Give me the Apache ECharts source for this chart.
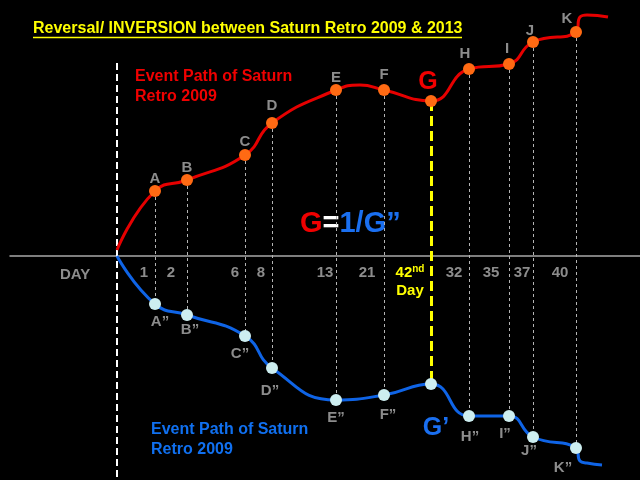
<!DOCTYPE html>
<html>
<head>
<meta charset="utf-8">
<script src="https://cdn.jsdelivr.net/npm/echarts@6/dist/echarts.min.js"></script>
<style>
html, body {margin: 0; padding: 0; background: #000;}
#main {width: 640px; height: 480px;}
</style>
</head>
<body>
<div id="main"></div>
<script>
// event points, x = position along the day axis (0 = start line)
const pointNames = ['A', 'B', 'C', 'D', 'E', 'F', 'G', 'H', 'I', 'J', 'K'];
const pointX = [38, 70, 128, 155, 219, 267, 314, 352, 392, 416, 459];
const redValues = [65, 76, 101, 133, 166, 166, 155, 187, 192, 214, 224];
const blueValues = [-48, -59, -80, -112, -144, -139, -128, -160, -160, -181, -192];
// unmarked points of each path (start, bends, tail)
const redPlain = [[0, 6], [243, 171], [463, 239], [470, 241], [491, 239]];
const bluePlain = [[0, 0], [463, -205], [470, -207], [485, -209]];
// day tick labels
const dayTickX = [27, 54, 118, 144, 208, 250, 293, 337, 374, 405, 443];
const dayTicks = ['1', '2', '6', '8', '13', '21', '42nd', '32', '35', '37', '40'];
const startLine = [193, -224];

// label nudges (style only)
const redOffsets = {A: [0, 4], B: [0, 4], C: [0, 3], D: [0, -1], E: [0, 4], F: [0, 1],
    G: [-3, 3], H: [-4, 1], I: [-2, 1], J: [-3, 5], K: [-9, 3]};
const blueOffsets = {A: [5, 0], B: [3, -3], C: [-5, 0], D: [-2, 5], E: [0, 0], F: [4, 2],
    G: [5, 22], H: [1, 3], I: [-4, 0], J: [-4, -4], K: [-13, 2]};

const grey = '#8c8c8c';
const font = 'Liberation Sans, Arial, sans-serif';

function pathData(values, plain, side) {
    const offsets = side === 'top' ? redOffsets : blueOffsets;
    const data = plain.map(function (p) {
        return {value: p, symbol: 'none', label: {show: false}};
    });
    values.forEach(function (v, i) {
        const n = pointNames[i];
        const item = {
            value: [pointX[i], v],
            name: side === 'top' ? n : (n === 'G' ? 'G\u2019' : n + '\u201D'),
            label: {offset: offsets[n]}
        };
        if (n === 'G') {
            item.label.fontSize = 25;
            item.label.color = side === 'top' ? '#f00000' : '#1a6ff0';
        }
        data.push(item);
    });
    data.sort(function (a, b) { return a.value[0] - b.value[0]; });
    return data;
}

const linkLines = pointX.map(function (x, i) {
    const yellow = pointNames[i] === 'G';
    return [
        {coord: [x, redValues[i]], lineStyle: yellow ? {color: '#ffff00', width: 3, type: [10, 5]} : undefined},
        {coord: [x, blueValues[i]]}
    ];
});
linkLines.push([
    {coord: [0, startLine[0]], lineStyle: {color: '#ffffff', width: 2, type: [7, 4]}},
    {coord: [0, startLine[1]]}
]);

const chart = echarts.init(document.getElementById('main'));
chart.setOption({
    backgroundColor: '#000',
    animation: false,
    grid: {left: 10, right: 0, top: 0, bottom: 0, containLabel: false, outerBoundsMode: 'none'},
    xAxis: {
        type: 'value', min: -107, max: 523,
        position: 'bottom',
        offset: -224,
        axisLine: {onZero: false, lineStyle: {color: '#a8a8a8', width: 1.5}},
        axisTick: {show: false},
        splitLine: {show: false},
        axisLabel: {
            customValues: dayTickX,
            margin: 8,
            formatter: function (v) {
                const t = dayTicks[dayTickX.indexOf(v)];
                if (t === '42nd') return '{y|42}{s|nd}\n{y|Day}';
                return '{g|' + t + '}';
            },
            rich: {
                g: {color: grey, fontSize: 15, fontWeight: 'bold', fontFamily: font, lineHeight: 18},
                y: {color: '#ffff00', fontSize: 15, fontWeight: 'bold', fontFamily: font, lineHeight: 18},
                s: {color: '#ffff00', fontSize: 10, fontWeight: 'bold', fontFamily: font, verticalAlign: 'top', lineHeight: 18}
            }
        }
    },
    yAxis: {
        type: 'value', min: -224, max: 256,
        show: false
    },
    series: [
        {
            type: 'line',
            data: pathData(redValues, redPlain, 'top'),
            smooth: 0.5,
            symbol: 'circle',
            symbolSize: 12,
            showAllSymbol: true,
            lineStyle: {color: '#e60000', width: 3},
            itemStyle: {color: '#ff6a13'},
            label: {
                show: true, position: 'top', distance: 3,
                formatter: '{b}',
                color: grey, fontSize: 15, fontWeight: 'bold', fontFamily: font
            },
            z: 3
        },
        {
            type: 'line',
            data: pathData(blueValues, bluePlain, 'bottom'),
            smooth: 0.5,
            symbol: 'circle',
            symbolSize: 12,
            showAllSymbol: true,
            lineStyle: {color: '#0f64e6', width: 3},
            itemStyle: {color: '#cdeef0'},
            label: {
                show: true, position: 'bottom', distance: 4,
                formatter: '{b}',
                color: grey, fontSize: 15, fontWeight: 'bold', fontFamily: font
            },
            markLine: {
                silent: true,
                symbol: 'none',
                label: {show: false},
                lineStyle: {color: '#b4b4b4', width: 1, type: [3, 3]},
                data: linkLines,
                z: 1
            },
            z: 3
        }
    ],
    graphic: [
        {
            type: 'text', left: 33, top: 21,
            style: {text: 'Reversal/ INVERSION between Saturn Retro 2009 & 2013', fill: '#ffff00',
                font: 'bold 16px ' + font}
        },
        {
            type: 'line', shape: {x1: 33, y1: 37.5, x2: 462, y2: 37.5},
            style: {stroke: '#ffff00', lineWidth: 1.5}
        },
        {
            type: 'text', left: 135, top: 67,
            style: {text: 'Event Path of Saturn\nRetro 2009', fill: '#f00000',
                font: 'bold 16px ' + font, lineHeight: 20}
        },
        {
            type: 'text', left: 151, top: 420,
            style: {text: 'Event Path of Saturn\nRetro 2009', fill: '#1070f0',
                font: 'bold 16px ' + font, lineHeight: 20}
        },
        {
            type: 'text', left: 60, top: 267,
            style: {text: 'DAY', fill: grey, font: 'bold 15px ' + font}
        },
        {
            type: 'text', left: 300, top: 209,
            style: {
                text: '{r|G}{w|=}{b|1/G\u201D}',
                rich: {
                    r: {fill: '#f00000', font: 'bold 29px ' + font},
                    w: {fill: '#ffffff', font: 'bold 29px ' + font},
                    b: {fill: '#1a6ff0', font: 'bold 29px ' + font}
                }
            }
        }
    ]
});
</script>
</body>
</html>
